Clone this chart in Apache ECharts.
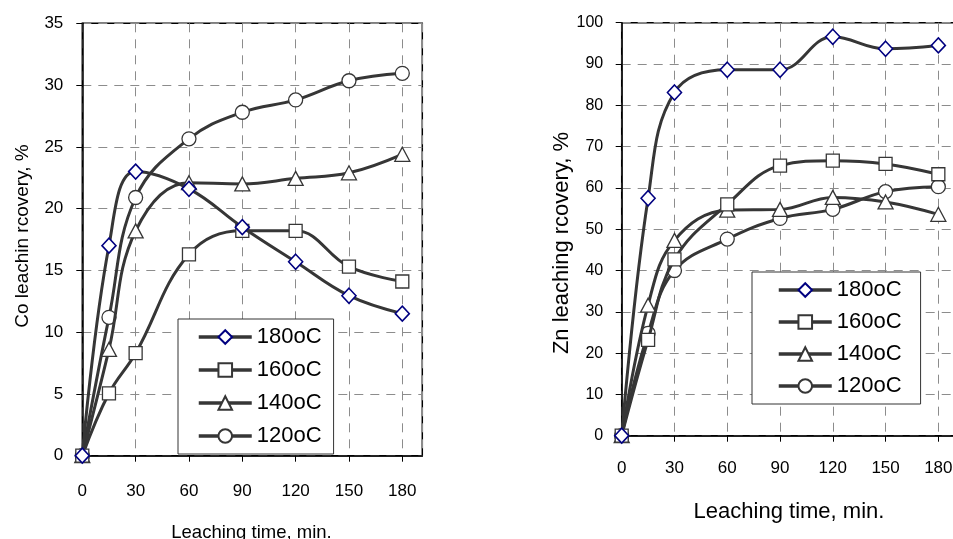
<!DOCTYPE html>
<html>
<head>
<meta charset="utf-8">
<script src="https://cdn.jsdelivr.net/npm/echarts@6/dist/echarts.min.js"></script>
<style>
html,body{margin:0;padding:0;background:#fff;}
#chart{width:953px;height:539px;}
</style>
</head>
<body>
<div id="chart"></div>
<script>
// ---- data ----
var times = [0, 15, 30, 60, 90, 120, 150, 180];
var seriesNames = ['180oC', '160oC', '140oC', '120oC'];
var co180 = [0, 17.0, 23.0, 21.6, 18.5, 15.7, 12.95, 11.5];
var co160 = [0, 5.05, 8.3, 16.3, 18.2, 18.2, 15.3, 14.1];
var co140 = [0, 8.6, 18.2, 22.1, 22.0, 22.45, 22.9, 24.4];
var co120 = [0, 11.2, 20.9, 25.65, 27.8, 28.8, 30.35, 30.95];
var zn180 = [0, 57.5, 83.1, 88.6, 88.6, 96.6, 93.7, 94.5];
var zn160 = [0, 23.2, 42.7, 56.0, 65.4, 66.6, 65.8, 63.3];
var zn140 = [0, 31.6, 47.3, 54.6, 54.8, 57.7, 56.6, 53.6];
var zn120 = [0, 24.8, 40.0, 47.6, 52.6, 54.8, 59.1, 60.3];
var xTicks = [0, 30, 60, 90, 120, 150, 180];
var xTitle = 'Leaching time, min.';
var coTitle = 'Co leachin rcovery, %';
var znTitle = 'Zn leaching rcovery, %';

var chart = echarts.init(document.getElementById('chart'), null, {renderer: 'canvas'});
var FONT = '"Liberation Sans", Arial, sans-serif';
var LINE = '#363636';

var symbols = ['diamond', 'rect', 'triangle', 'circle'];
var symSizes = [[14, 15], 13, [15, 14], 14];
function pair(arr) { return times.map(function (t, i) { return [t, arr[i]]; }); }

function mkSeries(arrs, idx) {
  return arrs.map(function (arr, k) {
    return {
      type: 'line',
      name: seriesNames[k],
      xAxisIndex: idx, yAxisIndex: idx,
      data: pair(arr),
      smooth: 0.4,
      symbol: symbols[k],
      symbolSize: symSizes[k],
      showAllSymbol: true,
      z: 10 - k,
      lineStyle: {color: LINE, width: 3},
      itemStyle: {color: '#fff', borderColor: k === 0 ? '#000080' : LINE, borderWidth: k === 0 ? 1.6 : 1.3},
      emphasis: {disabled: true},
      animation: false
    };
  });
}

function xAxis(gi, max, margin) {
  return {
    type: 'value', gridIndex: gi, min: 0, max: max, interval: 30,
    axisLine: {show: true, onZero: false, lineStyle: {color: '#000', width: 1.5}},
    axisTick: {show: true, inside: false, length: 6, lineStyle: {color: '#000', width: 1}},
    axisLabel: {show: true, showMaxLabel: false, margin: margin, color: '#000', fontFamily: FONT, fontSize: 17},
    splitLine: {show: true, lineStyle: {color: '#8c8c8c', width: 1, type: [9, 7]}}
  };
}
function yAxis(gi, max, interval, margin, fs) {
  return {
    type: 'value', gridIndex: gi, min: 0, max: max, interval: interval,
    axisLine: {show: true, onZero: false, lineStyle: {color: '#000', width: 1.5}},
    axisTick: {show: true, inside: false, length: 6, lineStyle: {color: '#000', width: 1}},
    axisLabel: {show: true, margin: margin, color: '#000', fontFamily: FONT, fontSize: fs},
    splitLine: {show: true, lineStyle: {color: '#8c8c8c', width: 1, type: [9, 7]}}
  };
}

function legend(left, top, padding, gap) {
  return {
    orient: 'vertical', left: left, top: top,
    data: seriesNames, selectedMode: false,
    itemWidth: 53, itemHeight: 17, itemGap: gap,
    padding: padding,
    backgroundColor: '#fff', borderColor: '#333', borderWidth: 1, borderRadius: 0,
    lineStyle: {width: 3.5, color: LINE},
    textStyle: {fontFamily: FONT, fontSize: 22, color: '#000', lineHeight: 24}
  };
}

var option = {
  backgroundColor: '#fff',
  animation: false,
  grid: [
    {left: 82.3, top: 23.3, width: 340, height: 432.4, show: true, borderColor: '#000', borderWidth: 1.5, backgroundColor: 'transparent', outerBoundsMode: 'none', containLabel: false},
    {left: 621.7, top: 22.7, width: 333, height: 413, show: true, borderColor: '#000', borderWidth: 1.5, backgroundColor: 'transparent', outerBoundsMode: 'none', containLabel: false}
  ],
  xAxis: [xAxis(0, 191.25, 27), xAxis(1, 189.3, 24)],
  yAxis: [yAxis(0, 35, 5, 19, 17), yAxis(1, 100, 10, 18.5, 16)],
  legend: [
    legend(178, 319, [6, 12, 6, 19], 9),
    legend(752, 272, [6, 19, 6, 25], 8)
  ],
  series: mkSeries([co180, co160, co140, co120], 0).concat(mkSeries([zn180, zn160, zn140, zn120], 1)),
  graphic: [
    {type: 'text', x: 22.5, y: 236, rotation: Math.PI / 2, silent: true,
     style: {text: coTitle, font: '19px ' + FONT, fill: '#000', textAlign: 'center', textVerticalAlign: 'middle'}},
    {type: 'text', x: 562, y: 243, rotation: Math.PI / 2, silent: true,
     style: {text: znTitle, font: '22px ' + FONT, fill: '#000', textAlign: 'center', textVerticalAlign: 'middle'}},
    {type: 'text', x: 251.5, y: 533, silent: true,
     style: {text: xTitle, font: '18.5px ' + FONT, fill: '#000', textAlign: 'center', textVerticalAlign: 'middle'}},
    {type: 'text', x: 789, y: 512, silent: true,
     style: {text: xTitle, font: '22px ' + FONT, fill: '#000', textAlign: 'center', textVerticalAlign: 'middle'}}
  ]
};
chart.setOption(option);
</script>
</body>
</html>
